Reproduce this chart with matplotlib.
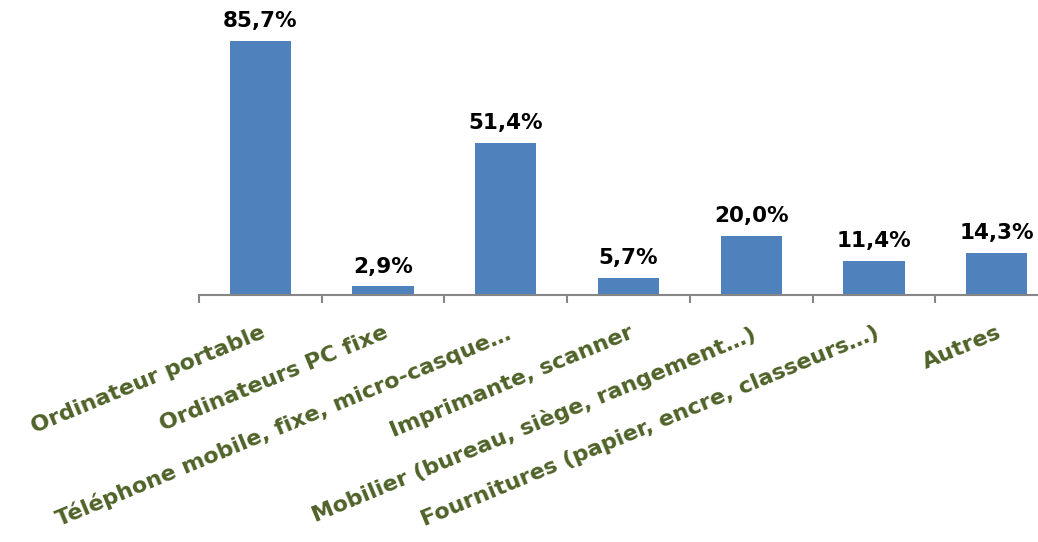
import numpy as np
import matplotlib
matplotlib.use("Agg")
import matplotlib.pyplot as plt

# ------------------------------------------------------------
# DATA
# ------------------------------------------------------------
categories = [
    "Ordinateur portable",
    "Ordinateurs PC fixe",
    "Téléphone mobile, fixe, micro-casque…",
    "Imprimante, scanner",
    "Mobilier (bureau, siège, rangement…)",
    "Fournitures (papier, encre, classeurs…)",
    "Autres",
]
values = [85.7, 2.9, 51.4, 5.7, 20.0, 11.4, 14.3]
value_labels = ["85,7%", "2,9%", "51,4%", "5,7%", "20,0%", "11,4%", "14,3%"]

BAR_COLOR = "#4F81BD"
LABEL_GREEN = "#4F6228"
AXIS_GRAY = "#868686"

# ------------------------------------------------------------
# FIGURE
# ------------------------------------------------------------
W, H = 1038, 542
fig = plt.figure(figsize=(W / 100, H / 100), dpi=100)
ax = fig.add_axes([199 / W, (H - 295) / H, (1058 - 199) / W, 266.8 / H])

x = np.arange(len(categories))
ax.bar(x, values, width=0.5, color=BAR_COLOR)

ax.set_xlim(-0.5, len(categories) - 0.5)
ax.set_ylim(0, 90)

for xi, v, lab in zip(x, values, value_labels):
    ax.text(xi, v + 3.3, lab, ha="center", va="bottom", fontsize=15.5,
            fontweight="bold", family="DejaVu Sans", color="black", clip_on=False)

# axes styling
for s in ["top", "right", "left"]:
    ax.spines[s].set_visible(False)
ax.spines["bottom"].set_color(AXIS_GRAY)
ax.spines["bottom"].set_linewidth(1.5)
ax.set_yticks([])

ax.set_xticks(x)
ax.set_xticklabels(categories, rotation=22.5, ha="right", rotation_mode="anchor",
                   fontsize=16, fontweight="bold", family="DejaVu Sans", color=LABEL_GREEN)
ax.tick_params(axis="x", which="major", length=0, pad=20)
ax.set_xticks(np.arange(-0.5, len(categories) - 0.5, 1.0), minor=True)
ax.tick_params(axis="x", which="minor", length=6, width=1.5, color=AXIS_GRAY)

fig.savefig("out.png", dpi=100)
